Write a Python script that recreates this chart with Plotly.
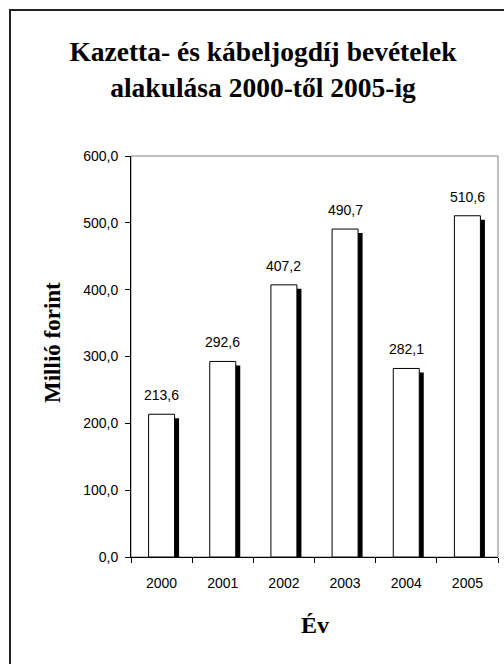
import plotly.graph_objects as go

years = ["2000", "2001", "2002", "2003", "2004", "2005"]
values = [213.6, 292.6, 407.2, 490.7, 282.1, 510.6]
y_ticks = [0, 100, 200, 300, 400, 500, 600]

W, H = 504, 664
ML, MR, MT, MB = 131, 6, 156, 107
plot_w = W - ML - MR
plot_h = H - MT - MB
y_max = 600
px_per_unit_y = plot_h / y_max
px_per_cat = plot_w / len(years)

bar_w = 26 / px_per_cat
shadow_dx = 4.5 / px_per_cat
shadow_dy = 4 / px_per_unit_y

sans = "Liberation Sans, Arial, sans-serif"
serif = "Liberation Serif, Times New Roman, serif"

fig = go.Figure()
# shadow
fig.add_trace(go.Bar(
    x=years, y=[v - shadow_dy for v in values],
    width=bar_w, offset=-bar_w / 2 + shadow_dx,
    marker=dict(color="black", line=dict(color="black", width=0)),
    hoverinfo="skip", showlegend=False,
))
# white bars
fig.add_trace(go.Bar(
    x=years, y=values,
    width=bar_w, offset=-bar_w / 2,
    marker=dict(color="white", line=dict(color="black", width=1)),
    showlegend=False,
))

annotations = []
for i, v in enumerate(values):
    annotations.append(dict(
        x=i, y=v, xref="x", yref="y", text=f"{v:.1f}".replace(".", ","),
        showarrow=False, yanchor="bottom", yshift=9,
        font=dict(family=sans, size=14, color="black"),
    ))
annotations.append(dict(
    x=(52 - ML) / plot_w, y=(H - MB - 343) / plot_h, xref="paper", yref="paper",
    text="<b>Millió forint</b>", textangle=-90, showarrow=False,
    xanchor="center", yanchor="middle",
    font=dict(family=serif, size=23, color="black"),
))
annotations.append(dict(
    x=(315 - ML) / plot_w, y=(H - MB - 625) / plot_h, xref="paper", yref="paper",
    text="<b>Év</b>", showarrow=False, xanchor="center", yanchor="middle",
    font=dict(family=serif, size=24, color="black"),
))

shapes = [
    # plot-area frame (gray)
    dict(type="rect", xref="paper", yref="paper", x0=0, x1=1, y0=0, y1=1,
         line=dict(color="#808080", width=1), layer="below"),
    # outer chart border (left and top visible)
    dict(type="path", xref="paper", yref="paper",
         path=f"M {(10 - ML) / plot_w},{-1} L {(10 - ML) / plot_w},{(H - MB - 10) / plot_h} L {2},{(H - MB - 10) / plot_h}",
         line=dict(color="#222222", width=2)),
]

fig.update_layout(
    width=W, height=H,
    margin=dict(l=ML, r=MR, t=MT, b=MB),
    paper_bgcolor="white", plot_bgcolor="white",
    barmode="overlay",
    separators=", ",
    title=dict(
        text="<b>Kazetta- és kábeljogdíj bevételek<br>alakulása 2000-től 2005-ig</b>",
        x=263 / W, xanchor="center", xref="container",
        y=1 - 61 / H, yanchor="top", yref="container",
        font=dict(family=serif, size=27.5, color="black"),
    ),
    xaxis=dict(
        type="category", range=[-0.5, len(years) - 0.5],
        showline=True, linecolor="black", linewidth=1,
        ticks="outside", ticklen=5, tickcolor="black", tickson="boundaries",
        showgrid=False, ticklabelstandoff=13,
        tickfont=dict(family=sans, size=14, color="black"),
    ),
    yaxis=dict(
        range=[0, y_max], tickvals=y_ticks, tickformat=".1f",
        showline=True, linecolor="black", linewidth=1,
        ticks="outside", ticklen=5, tickcolor="black",
        showgrid=False, zeroline=False, ticklabelstandoff=4,
        tickfont=dict(family=sans, size=14, color="black"),
    ),
    annotations=annotations,
    shapes=shapes,
)

fig.write_html("out.html", config={"displayModeBar": False})
with open("out.html", "r", encoding="utf-8") as f:
    html = f.read()
html = html.replace("<head>", "<head><style>html,body{margin:0;padding:0;overflow:hidden;}</style>", 1)
with open("out.html", "w", encoding="utf-8") as f:
    f.write(html)
